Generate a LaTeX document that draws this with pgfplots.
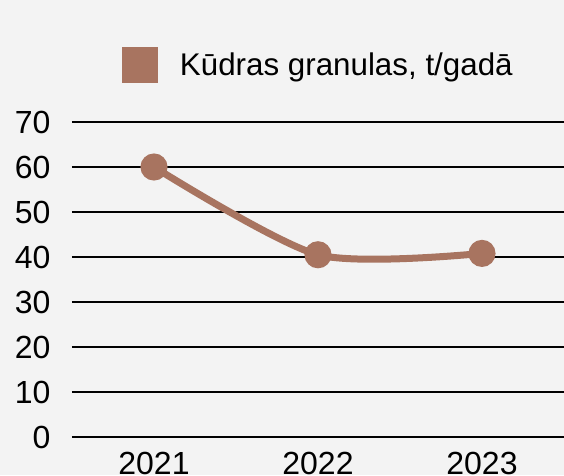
\documentclass[border=0pt]{standalone}
\usepackage{fontspec}
\setmainfont{Liberation Sans}
\usepackage{pgfplots}
\pgfplotsset{compat=1.18}
\definecolor{bg}{HTML}{F3F3F3}
\definecolor{peat}{HTML}{A87460}
\begin{document}
\begin{tikzpicture}
\fill[bg] (-54pt,-28.5pt) rectangle (369pt,327.75pt);
\begin{axis}[
 at={(0,0)}, anchor=south west,
 scale only axis, width=369pt, height=236.25pt,
 xmin=2020.5, xmax=2023.5, ymin=0, ymax=70,
 xtick={2021,2022,2023}, ytick={0,10,...,70},
 xticklabels={2021,2022,2023},
 axis line style={draw=none},
 major tick length=0pt,
 ymajorgrids, grid style={black, line width=1.1pt},
 tick label style={font=\fontsize{24}{28}\selectfont},
 /pgf/number format/assume math mode=true,
 yticklabel style={inner sep=0pt, anchor=east, xshift=-16pt},
 xticklabel style={inner sep=0pt, anchor=north, yshift=-11.25pt},
 clip=false,
 legend style={draw=none, fill=none, inner sep=0pt, outer sep=0pt, nodes={inner sep=0pt, outer sep=0pt},
   at={(axis description cs:0.1016,1.181)}, anchor=west,
   font=\fontsize{23.5}{28}\selectfont},
 legend image code/.code={\path[fill=peat, draw=none] (0pt,-13.5pt) rectangle (27pt,13.5pt); \path[draw=none] (43.5pt,0pt);},
]
\addplot[peat, line width=5.25pt, smooth, tension=0.45, mark=*, mark size=7.5pt, mark options={solid, fill=peat, draw=none}] coordinates {(2021,60) (2022,40.5) (2023,40.8)};
\addlegendentry{Kūdras granulas, t/gadā}
\end{axis}
\pgfresetboundingbox
\useasboundingbox (-54pt,-28.5pt) rectangle (369pt,327.75pt);
\end{tikzpicture}
\end{document}
